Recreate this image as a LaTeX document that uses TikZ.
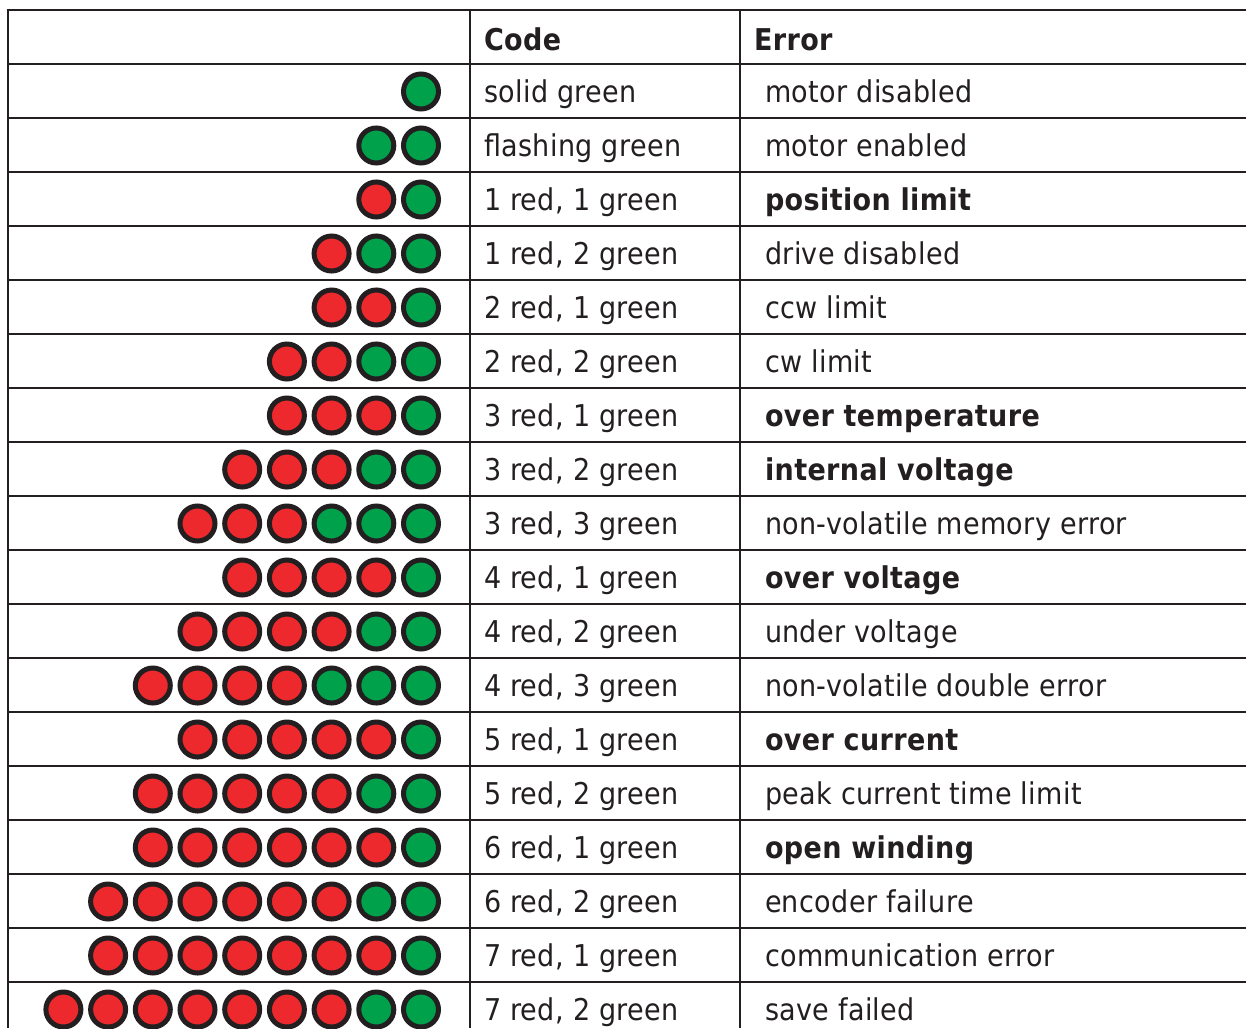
\documentclass[tikz,border=0pt]{standalone}
\usepackage{fontspec}
\setmainfont{DejaVu Sans Condensed}[LetterSpace=1.3]
\definecolor{ink}{HTML}{231F20}
\definecolor{ledred}{HTML}{ED292E}
\definecolor{ledgreen}{HTML}{00A14B}
\begin{document}
\begin{tikzpicture}[x=1pt,y=-1pt,
  rule/.style={draw=ink,line width=2pt},
  cell/.style={anchor=base west,inner sep=0pt,outer sep=0pt,text=ink,font=\fontsize{30}{34}\selectfont},
  head/.style={cell,font=\fontsize{30}{34}\selectfont\bfseries},
  led/.style={circle,draw=ink,line width=5pt,minimum size=35pt,inner sep=0pt,fill=#1}]
\useasboundingbox (0,0) rectangle (1246,1028);
\fill[white] (0,0) rectangle (1246,1028);
% header
\node[head] (hcode) at (484,50) {Code};
\node[head] (herr) at (754,50) {Error};
% rows
\foreach \code/\err/\nr/\ng [count=\i from 0] in {
  {solid green}/{motor disabled}/0/1,
  {flashing green}/{motor enabled}/0/2,
  {1 red, 1 green}/{\textbf{position limit}}/1/1,
  {1 red, 2 green}/{drive disabled}/1/2,
  {2 red, 1 green}/{ccw limit}/2/1,
  {2 red, 2 green}/{cw limit}/2/2,
  {3 red, 1 green}/{\textbf{over temperature}}/3/1,
  {3 red, 2 green}/{\textbf{internal voltage}}/3/2,
  {3 red, 3 green}/{non-volatile memory error}/3/3,
  {4 red, 1 green}/{\textbf{over voltage}}/4/1,
  {4 red, 2 green}/{under voltage}/4/2,
  {4 red, 3 green}/{non-volatile double error}/4/3,
  {5 red, 1 green}/{\textbf{over current}}/5/1,
  {5 red, 2 green}/{peak current time limit}/5/2,
  {6 red, 1 green}/{\textbf{open winding}}/6/1,
  {6 red, 2 green}/{encoder failure}/6/2,
  {7 red, 1 green}/{communication error}/7/1,
  {7 red, 2 green}/{save failed}/7/2}{
  \pgfmathsetmacro\yc{91.5+54*\i}
  \node[cell] (code\i) at (484,\yc+11) {\code};
  \node[cell] (err\i) at (765,\yc+11) {\err};
  \pgfmathtruncatemacro\n{\nr+\ng}
  \foreach \j in {1,...,\n}{
    \pgfmathsetmacro\xc{421-(\n-\j)*44.7}
    \ifnum\j>\nr
      \node[led=ledgreen] (led-\i-\j) at (\xc,\yc) {};
    \else
      \node[led=ledred] (led-\i-\j) at (\xc,\yc) {};
    \fi
  }
}
% table rules
\draw[rule] (7,10) -- (1246,10);
\draw[rule] (8,9) -- (8,1028);
\draw[rule] (470,10) -- (470,1028);
\draw[rule] (740,10) -- (740,1028);
\foreach \k in {0,...,17}{
  \draw[rule] (8,64+54*\k) -- (1246,64+54*\k);
}
\end{tikzpicture}
\end{document}
